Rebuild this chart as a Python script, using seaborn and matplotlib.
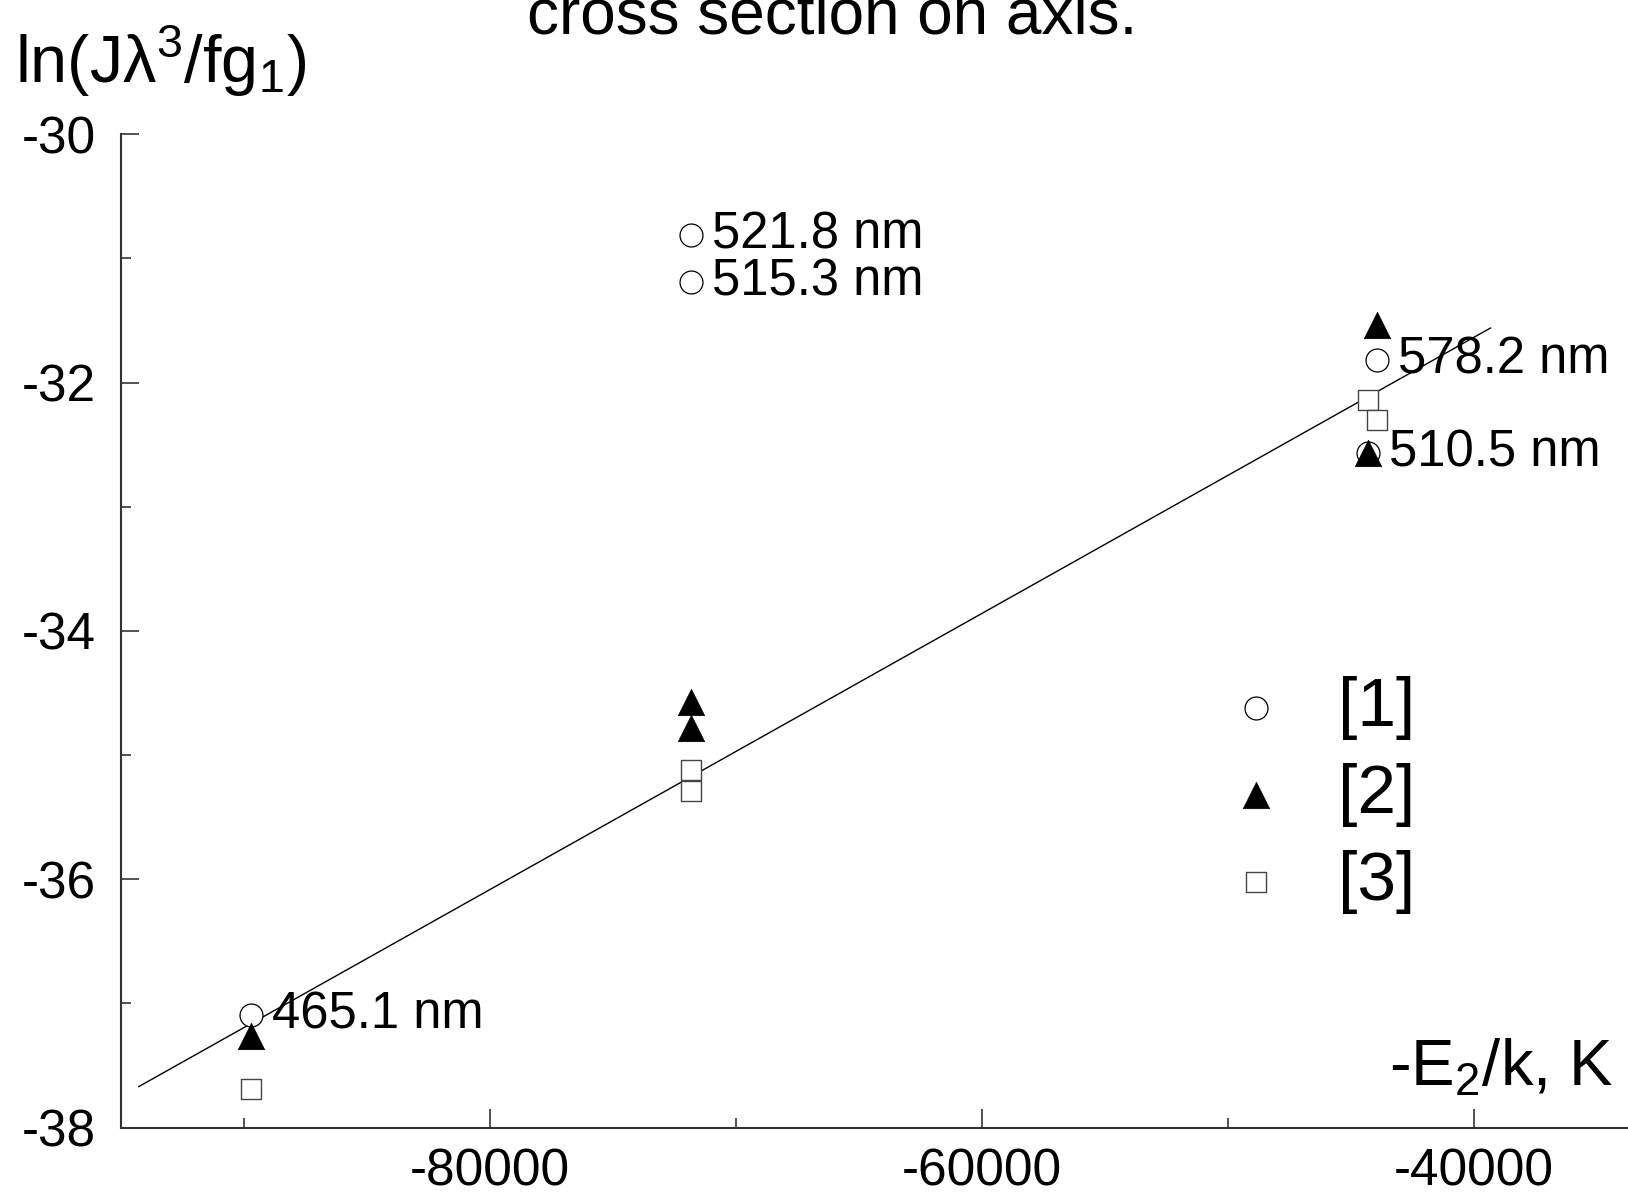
import matplotlib
matplotlib.use("Agg")
import matplotlib.pyplot as plt
import seaborn as sns
import pandas as pd

# ---- data ----
series_names = ["[1]", "[2]", "[3]"]

x1 = [-89720, -71840, -71840, -43930, -44300]
y1 = [-37.09, -30.81, -31.19, -31.82, -32.57]
lab1 = ["465.1 nm", "521.8 nm", "515.3 nm", "578.2 nm", "510.5 nm"]

x2 = [-89720, -71840, -71840, -43930, -44300]
y2 = [-37.26, -34.57, -34.78, -31.54, -32.57]

x3 = [-89720, -71840, -71840, -44300, -43930]
y3 = [-37.69, -35.12, -35.29, -32.14, -32.30]

fit_x = [-94270, -39330]
fit_y = [-37.67, -31.56]

x_major = [-80000, -60000, -40000]
x_minor = [-90000, -70000, -50000]
y_major = [-30, -32, -34, -36, -38]
y_minor = [-31, -33, -35, -37]

sns.set_theme(style="white")
plt.rcParams["font.family"] = ["Liberation Sans", "DejaVu Sans"]
plt.rcParams["mathtext.fontset"] = "custom"
plt.rcParams["mathtext.rm"] = "Liberation Sans"
plt.rcParams["mathtext.it"] = "Liberation Sans"
plt.rcParams["mathtext.bf"] = "Liberation Sans:bold"
plt.rcParams["text.color"] = "black"
plt.rcParams["axes.labelcolor"] = "black"
plt.rcParams["xtick.color"] = "black"
plt.rcParams["ytick.color"] = "black"

fig = plt.figure(figsize=(16.28, 11.98), dpi=100)
ax = fig.add_axes([0.0741, 0.0587, 1.0 - 0.0741, 0.888 - 0.0587])

df1 = pd.DataFrame({"x": x1, "y": y1})
df2 = pd.DataFrame({"x": x2, "y": y2})
df3 = pd.DataFrame({"x": x3, "y": y3})
dfit = pd.DataFrame({"x": fit_x, "y": fit_y})

sns.lineplot(data=dfit, x="x", y="y", ax=ax, color="black", linewidth=1.0, legend=False)

sns.scatterplot(data=df1, x="x", y="y", ax=ax, marker="o", s=16.5**2,
                facecolor="white", edgecolor="black", linewidth=0.9,
                label=series_names[0], zorder=3)
sns.scatterplot(data=df2, x="x", y="y", ax=ax, marker="^", s=19**2,
                color="black", edgecolor="black", linewidth=0.5,
                label=series_names[1], zorder=4)
sns.scatterplot(data=df3, x="x", y="y", ax=ax, marker="s", s=14.5**2,
                facecolor="white", edgecolor="#444444", linewidth=1.0,
                label=series_names[2], zorder=3)

for xv, yv, t in zip(x1, y1, lab1):
    ax.annotate(t, xy=(xv, yv), xytext=(21, 0), textcoords="offset pixels",
                ha="left", va="center", fontsize=36.5, color="black", zorder=5)

ax.set_xlim(-95000, -33750)
ax.set_ylim(-38, -30)
ax.set_xticks(x_major)
ax.set_xticklabels([str(v) for v in x_major])
ax.set_yticks(y_major)
ax.set_yticklabels([str(v) for v in y_major])
ax.set_xticks(x_minor, minor=True)
ax.set_yticks(y_minor, minor=True)

ax.tick_params(axis="both", which="major", direction="in", labelsize=37,
               colors="#333333", labelcolor="black", width=1.2)
ax.tick_params(axis="x", which="major", length=13.5, pad=14)
ax.tick_params(axis="y", which="major", length=13, pad=18)
ax.tick_params(axis="both", which="minor", direction="in", length=7,
               width=1.2, colors="#333333")
ax.tick_params(axis="both", which="both", bottom=True, left=True, top=False, right=False)

for side in ["top", "right"]:
    ax.spines[side].set_visible(False)
for side in ["left", "bottom"]:
    ax.spines[side].set_color("#333333")
    ax.spines[side].set_linewidth(1.5)

ax.set_xlabel("")
ax.set_ylabel("")
ax.grid(False)

leg = ax.legend(loc="upper left", bbox_to_anchor=(0.7502, 0.4358),
                bbox_transform=fig.transFigure, frameon=False, fontsize=50,
                handlelength=1.0, handletextpad=0.68, labelspacing=0.33,
                borderpad=0, borderaxespad=0, markerscale=1.0)
for t in leg.get_texts():
    t.set_color("black")

fig.text(0.009, 0.931, r"ln(J$\mathrm{\lambda}^{3}$/fg$_{1}$)", fontsize=48,
         ha="left", va="baseline", color="black")
fig.text(0.853, 0.0935, r"-E$_{2}$/k, K", fontsize=47,
         ha="left", va="baseline", color="black")
fig.text(0.511, 0.972, "cross section on axis.", fontsize=46,
         ha="center", va="baseline", color="black")

fig.savefig("out.png", dpi=100)
